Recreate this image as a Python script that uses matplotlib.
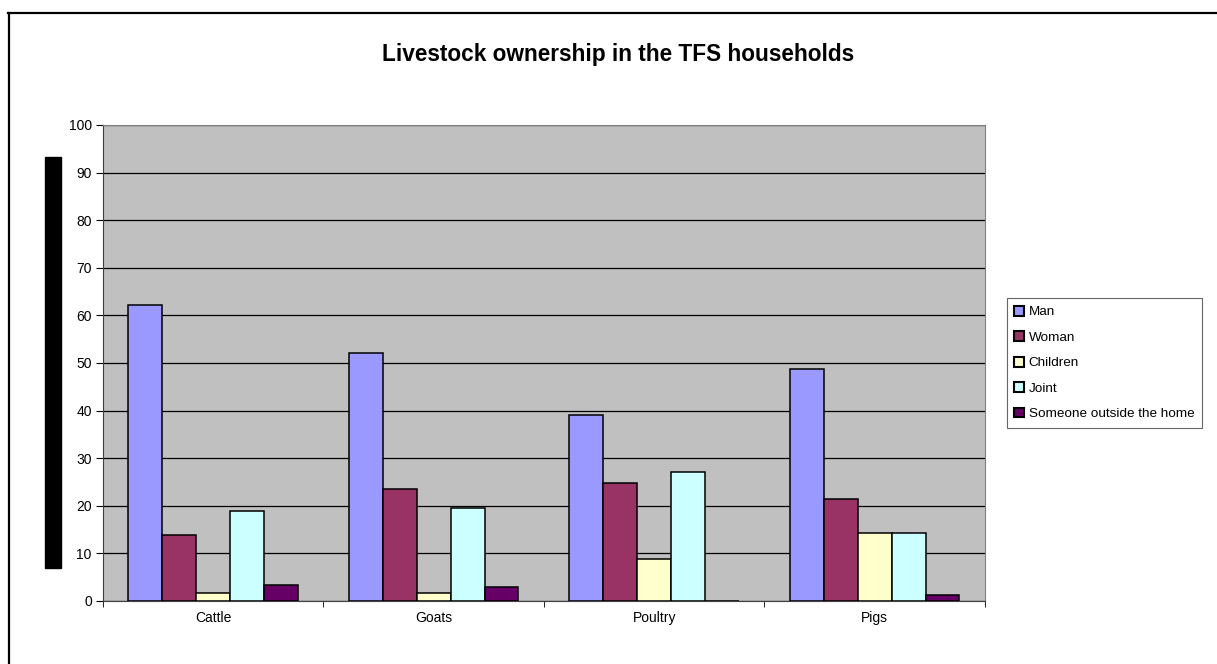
import numpy as np
import matplotlib.pyplot as plt
from matplotlib.patches import Rectangle
from matplotlib.lines import Line2D

plt.rcParams['font.family'] = ['Liberation Sans', 'DejaVu Sans']

animals = ['Cattle', 'Goats', 'Poultry', 'Pigs']
owners = ['Man', 'Woman', 'Children', 'Joint', 'Someone outside the home']
man = [62.2, 52.2, 39.1, 48.7]
woman = [13.8, 23.5, 24.8, 21.4]
children = [1.6, 1.6, 8.8, 14.2]
joint = [18.8, 19.6, 27.2, 14.2]
outside = [3.4, 2.9, 0.0, 1.3]
colors = ['#9999FF', '#993366', '#FFFFCC', '#CCFFFF', '#660066']

series = [man, woman, children, joint, outside]

fig = plt.figure(figsize=(12.17, 6.64), dpi=100)
ax = fig.add_axes([0.0846, 0.0949, 0.7247, 0.7169])
ax.set_facecolor('#C0C0C0')

x = np.arange(len(animals))
w = 1 / 6.5
for i, (vals, name, c) in enumerate(zip(series, owners, colors)):
    ax.bar(x + (i - 2) * w, vals, w, color=c, edgecolor='black',
           linewidth=1.1, label=name, zorder=3)

ax.set_xlim(-0.5, 3.5)
ax.set_ylim(0, 100)
ax.set_yticks(range(0, 101, 10))
ax.yaxis.grid(True, color='black', linewidth=0.9, zorder=1)
ax.set_axisbelow(True)

ax.set_xticks(x)
ax.set_xticklabels(animals, fontsize=10)
ax.tick_params(axis='x', length=0, pad=7)
ax.set_xticks(np.arange(-0.5, 4, 1), minor=True)
ax.tick_params(axis='x', which='minor', length=4, direction='out', color='black')
ax.tick_params(axis='y', labelsize=10, length=5, direction='out', pad=3)

for side in ['top', 'right']:
    ax.spines[side].set_color('#808080')
for side in ['left', 'bottom']:
    ax.spines[side].set_color('#404040')

leg = ax.legend(loc='center left', bbox_to_anchor=(1.025, 0.5), fontsize=9.7,
                frameon=True, fancybox=False, handlelength=0.75,
                handleheight=0.75, handletextpad=0.3, labelspacing=0.95,
                borderpad=0.55, borderaxespad=0)
leg.get_frame().set_edgecolor('#404040')
leg.get_frame().set_linewidth(0.8)
for h in leg.legend_handles:
    h.set_linewidth(1.5)

fig.text(0.508, 0.918, 'Livestock ownership in the TFS households',
         ha='center', va='center', fontsize=16.3, fontweight='bold')

# solid block standing in for the y-axis caption
fig.add_artist(Rectangle((0.037, 0.1446), 0.0132, 0.619,
                         transform=fig.transFigure, color='black'))

# chart frame (top and left edges)
fig.add_artist(Line2D([8 / 1217, 1.0], [1 - 13 / 664, 1 - 13 / 664],
                      transform=fig.transFigure, color='black', linewidth=1.6))
fig.add_artist(Line2D([9 / 1217, 9 / 1217], [0.0, 1 - 13 / 664],
                      transform=fig.transFigure, color='black', linewidth=1.6))

fig.savefig('out.png', dpi=100)
